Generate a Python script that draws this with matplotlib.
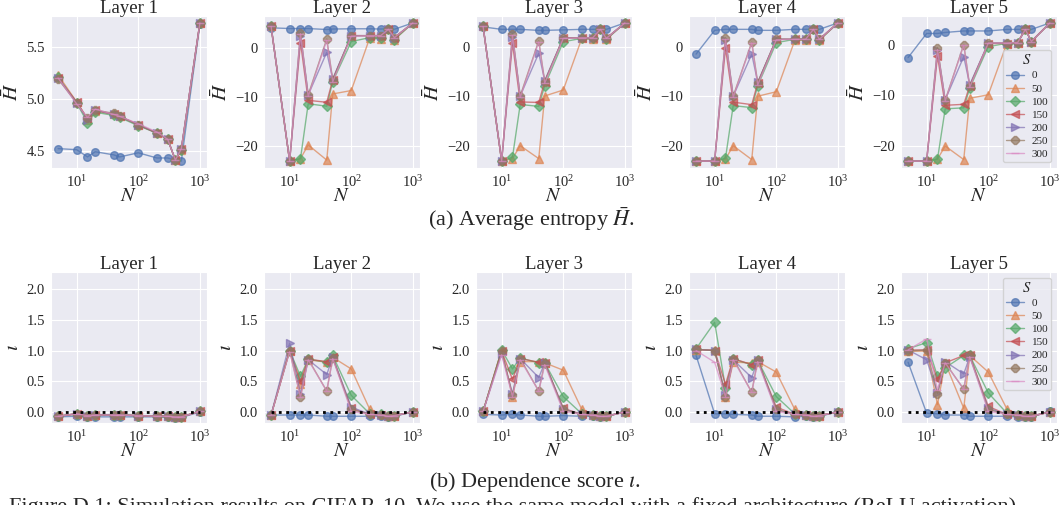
import numpy as np
import matplotlib
matplotlib.use('Agg')
import matplotlib.pyplot as plt
import seaborn as sns

sns.set_style('darkgrid')
plt.rcParams['font.family'] = ['Liberation Serif', 'DejaVu Serif']
plt.rcParams['mathtext.fontset'] = 'stix'

N = [5, 10, 15, 20, 40, 50, 100, 200, 300, 400, 500, 1000]
S = [0, 50, 100, 150, 200, 250, 300]
layers = ['Layer 1', 'Layer 2', 'Layer 3', 'Layer 4', 'Layer 5']

# average entropy H, one list per S value, per layer
H = [
    [  # layer 1
        [4.52, 4.51, 4.44, 4.49, 4.46, 4.44, 4.48, 4.43, 4.43, 4.41, 4.40, 5.72],
        [5.23, 4.97, 4.80, 4.88, 4.85, 4.83, 4.75, 4.67, 4.61, 4.41, 4.51, 5.73],
        [5.21, 4.96, 4.77, 4.87, 4.84, 4.82, 4.74, 4.67, 4.61, 4.41, 4.51, 5.73],
        [5.20, 4.97, 4.81, 4.89, 4.85, 4.83, 4.75, 4.67, 4.61, 4.41, 4.52, 5.73],
        [5.20, 4.96, 4.80, 4.89, 4.85, 4.83, 4.75, 4.67, 4.61, 4.41, 4.52, 5.73],
        [5.19, 4.96, 4.81, 4.89, 4.86, 4.83, 4.75, 4.67, 4.61, 4.41, 4.52, 5.73],
        [5.20, 4.95, 4.82, 4.90, 4.85, 4.83, 4.76, 4.68, 4.61, 4.41, 4.52, 5.73],
    ],
    [  # layer 2
        [4.2, 4.05, 4.05, 4.05, 3.85, 3.95, 4.0, 4.0, 3.95, 4.0, 3.9, 5.2],
        [4.5, -23.0, -22.5, -19.7, -22.8, -9.3, -8.6, 2.2, 2.0, 3.9, 1.8, 5.2],
        [4.5, -23.0, -22.5, -11.3, -11.8, -6.8, 1.4, 2.2, 2.2, 3.9, 1.8, 5.2],
        [4.5, -23.0, 1.2, -10.6, -11.0, -6.4, 2.6, 2.6, 2.6, 3.9, 2.2, 5.2],
        [4.5, -23.0, 2.6, -9.5, -0.8, -6.2, 2.6, 2.6, 2.6, 3.9, 2.2, 5.2],
        [4.5, -23.0, 3.2, -9.5, 1.9, -6.4, 2.6, 2.6, 2.6, 3.9, 2.2, 5.2],
        [4.5, -23.0, 3.0, -9.8, 1.7, -6.8, 2.5, 2.6, 2.6, 3.9, 2.2, 5.2],
    ],
    [  # layer 3
        [4.0, 3.5, 3.5, 3.5, 3.3, 3.3, 3.4, 3.5, 3.5, 3.5, 3.5, 4.8],
        [4.1, -23.0, -22.5, -19.9, -22.5, -9.9, -8.7, 1.7, 1.5, 3.5, 1.5, 4.8],
        [4.1, -23.0, -22.2, -11.6, -12.0, -7.8, 1.0, 1.7, 1.7, 3.5, 1.5, 4.8],
        [4.1, -23.0, 0.7, -11.1, -11.2, -7.0, 1.8, 1.8, 1.8, 3.5, 1.7, 4.8],
        [4.1, -23.0, 2.0, -9.9, -1.3, -6.8, 1.8, 1.8, 1.8, 3.5, 1.7, 4.8],
        [4.1, -23.0, 2.6, -9.9, 1.2, -7.0, 1.8, 1.8, 1.8, 3.5, 1.7, 4.8],
        [4.1, -23.0, 2.3, -10.2, 1.0, -7.3, 1.7, 1.8, 1.8, 3.5, 1.7, 4.8],
    ],
    [  # layer 4
        [-1.5, 3.3, 3.5, 3.5, 3.5, 3.3, 3.3, 3.5, 3.5, 3.5, 3.5, 4.8],
        [-23.1, -23.1, -22.7, -20.0, -22.8, -10.0, -9.1, 1.3, 1.3, 3.5, 1.3, 4.8],
        [-23.1, -23.1, -22.5, -11.9, -12.3, -7.9, 0.8, 1.5, 1.5, 3.5, 1.3, 4.8],
        [-23.1, -23.1, -0.3, -11.2, -11.7, -7.3, 1.5, 1.5, 1.5, 3.5, 1.5, 4.8],
        [-23.1, -23.1, 1.3, -10.0, -1.5, -7.2, 1.5, 1.5, 1.5, 3.5, 1.5, 4.8],
        [-23.1, -23.1, 1.8, -10.0, 0.9, -7.3, 1.5, 1.5, 1.5, 3.5, 1.5, 4.8],
        [-23.1, -23.1, 1.5, -10.2, 0.8, -7.7, 1.4, 1.5, 1.5, 3.5, 1.5, 4.8],
    ],
    [  # layer 5
        [-2.5, 2.3, 2.3, 2.5, 2.8, 2.8, 2.8, 3.1, 3.1, 3.1, 3.1, 4.4],
        [-23.1, -23.1, -22.7, -20.1, -22.8, -10.6, -9.9, 0.3, 0.5, 3.1, 0.7, 4.4],
        [-23.1, -23.1, -22.7, -12.7, -12.5, -8.6, -0.3, 0.3, 0.5, 3.1, 0.7, 4.4],
        [-23.1, -23.1, -2.2, -12.0, -11.8, -8.1, 0.3, 0.3, 0.5, 3.1, 0.7, 4.4],
        [-23.1, -23.1, -1.0, -10.9, -2.3, -7.9, 0.4, 0.4, 0.5, 3.1, 0.7, 4.4],
        [-23.1, -23.1, -0.5, -11.0, 0.1, -8.2, 0.4, 0.4, 0.5, 3.1, 0.7, 4.4],
        [-23.1, -23.1, -0.9, -11.1, 0.0, -8.4, 0.4, 0.4, 0.5, 3.1, 0.7, 4.4],
    ],
]

# dependence score iota
iota = [
    [  # layer 1
        [-0.08, -0.07, -0.08, -0.08, -0.08, -0.08, -0.08, -0.08, -0.09, -0.10, -0.09, 0.0],
        [-0.07, -0.03, -0.06, -0.05, -0.05, -0.05, -0.06, -0.07, -0.07, -0.08, -0.08, 0.01],
        [-0.07, -0.03, -0.06, -0.05, -0.05, -0.05, -0.06, -0.07, -0.07, -0.08, -0.08, 0.01],
        [-0.07, -0.03, -0.06, -0.05, -0.05, -0.05, -0.06, -0.07, -0.07, -0.08, -0.08, 0.01],
        [-0.07, -0.03, -0.06, -0.05, -0.05, -0.05, -0.06, -0.07, -0.07, -0.08, -0.08, 0.01],
        [-0.07, -0.03, -0.06, -0.05, -0.05, -0.05, -0.06, -0.07, -0.07, -0.08, -0.08, 0.01],
        [-0.07, -0.03, -0.06, -0.05, -0.05, -0.05, -0.06, -0.07, -0.07, -0.08, -0.08, 0.01],
    ],
    [  # layer 2
        [-0.05, -0.05, -0.05, -0.05, -0.07, -0.07, -0.07, -0.07, -0.07, -0.08, -0.07, 0.0],
        [-0.05, 1.00, 0.45, 0.85, 0.81, 0.89, 0.70, 0.04, -0.04, -0.07, -0.06, 0.0],
        [-0.05, 1.00, 0.58, 0.86, 0.81, 0.92, 0.27, -0.03, -0.04, -0.07, -0.06, 0.0],
        [-0.05, 1.00, 0.50, 0.86, 0.82, 0.89, 0.06, -0.04, -0.05, -0.07, -0.06, 0.0],
        [-0.05, 1.12, 0.30, 0.85, 0.61, 0.89, 0.08, -0.04, -0.05, -0.07, -0.06, 0.0],
        [-0.05, 1.00, 0.25, 0.86, 0.34, 0.88, 0.04, -0.04, -0.05, -0.07, -0.06, 0.0],
        [-0.05, 0.98, 0.24, 0.85, 0.34, 0.87, 0.01, -0.04, -0.05, -0.07, -0.06, 0.0],
    ],
    [  # layer 3
        [-0.04, -0.05, -0.04, -0.05, -0.07, -0.07, -0.06, -0.07, -0.07, -0.08, -0.07, 0.0],
        [0.01, 1.01, 0.25, 0.82, 0.82, 0.80, 0.68, 0.04, -0.05, -0.07, -0.07, 0.0],
        [0.01, 1.01, 0.70, 0.88, 0.80, 0.80, 0.25, -0.03, -0.05, -0.07, -0.07, 0.0],
        [0.01, 0.99, 0.53, 0.87, 0.81, 0.80, 0.06, -0.04, -0.05, -0.07, -0.07, 0.0],
        [0.01, 0.95, 0.30, 0.87, 0.56, 0.80, 0.05, -0.04, -0.05, -0.07, -0.07, 0.0],
        [0.01, 1.00, 0.27, 0.87, 0.34, 0.80, 0.04, -0.04, -0.05, -0.07, -0.07, 0.0],
        [0.01, 0.93, 0.25, 0.85, 0.34, 0.77, 0.01, -0.04, -0.05, -0.07, -0.07, 0.0],
    ],
    [  # layer 4
        [0.92, -0.03, -0.03, -0.04, -0.05, -0.07, -0.07, -0.08, -0.07, -0.08, -0.07, 0.0],
        [1.01, 1.01, 0.25, 0.81, 0.80, 0.82, 0.65, 0.04, -0.05, -0.07, -0.06, 0.0],
        [1.03, 1.46, 0.39, 0.86, 0.77, 0.84, 0.25, -0.03, -0.05, -0.07, -0.06, 0.0],
        [1.02, 1.00, 0.45, 0.87, 0.77, 0.84, 0.08, -0.04, -0.05, -0.07, -0.06, 0.0],
        [1.02, 1.00, 0.28, 0.85, 0.56, 0.84, 0.04, -0.04, -0.05, -0.07, -0.06, 0.0],
        [1.02, 1.00, 0.25, 0.87, 0.32, 0.85, 0.04, -0.04, -0.05, -0.07, -0.06, 0.0],
        [1.00, 0.81, 0.25, 0.85, 0.32, 0.82, 0.01, -0.04, -0.05, -0.07, -0.06, 0.0],
    ],
    [  # layer 5
        [0.81, -0.02, -0.03, -0.05, -0.05, -0.07, -0.07, -0.07, -0.08, -0.08, -0.08, 0.01],
        [0.99, 0.99, 0.12, 0.80, 0.06, 0.92, 0.65, 0.05, -0.05, -0.07, -0.07, 0.0],
        [1.03, 1.13, 0.58, 0.72, 0.92, 0.92, 0.31, -0.02, -0.05, -0.07, -0.07, 0.0],
        [1.01, 1.01, 0.53, 0.80, 0.92, 0.92, 0.09, -0.04, -0.05, -0.07, -0.07, 0.0],
        [1.01, 0.85, 0.31, 0.82, 0.62, 0.90, 0.06, -0.04, -0.05, -0.07, -0.07, 0.0],
        [0.99, 1.01, 0.30, 0.80, 0.37, 0.92, 0.04, -0.04, -0.05, -0.07, -0.07, 0.0],
        [1.01, 1.19, 0.36, 0.80, 0.37, 0.90, 0.01, -0.04, -0.05, -0.07, -0.07, 0.0],
    ],
]

iota_ticks = [0.0, 0.5, 1.0, 1.5, 2.0]

colors = sns.color_palette('deep', 7)
markers = ['o', '^', 'D', '<', '>', '8', '_']

W, Hpx = 1063, 505
fig = plt.figure(figsize=(W / 100, Hpx / 100), dpi=100)
lefts = [51, 264, 476, 689, 901]
aw = 156


def make_ax(left, top, bottom):
    return fig.add_axes([left / W, 1 - bottom / Hpx, aw / W, (bottom - top) / Hpx])


for row, (data, ylab) in enumerate([(H, r'$\bar{H}$'), (iota, r'$\iota$')]):
    for j in range(5):
        if row == 0:
            ax = make_ax(lefts[j], 16, 168)
        else:
            ax = make_ax(lefts[j], 272, 423)
        for k, s in enumerate(S):
            ax.plot(N, data[j][k], marker=markers[k], color=colors[k], alpha=0.7,
                    lw=1, ms=5.5, label=str(s))
        if row == 1:
            ax.plot([N[0], N[-1]], [0, 0], 'k:', lw=2)
            ax.set_ylim(-0.18, 2.28)
            ax.set_yticks(iota_ticks)
            ax.set_yticklabels(['%.1f' % t for t in iota_ticks])
        ax.set_xscale('log')
        ax.set_title(layers[j], fontsize=13.5, pad=2)
        ax.set_xlabel(r'$N$', fontsize=14.5, labelpad=-2)
        ax.set_ylabel(ylab, fontsize=15, labelpad=2)
        ax.tick_params(labelsize=10.5, pad=1)
        if j == 4:
            leg = ax.legend(title=r'$S$', fontsize=8, title_fontsize=10.5,
                            loc='lower right' if row == 0 else 'upper right',
                            handlelength=1.6, handletextpad=0.7,
                            labelspacing=0.3, borderpad=0.3)

fig.text(0.5, 1 - 219 / Hpx, r'(a) Average entropy $\bar{H}$.', ha='center', va='center', fontsize=16)
fig.text(0.503, 1 - 482 / Hpx, r'(b) Dependence score $\iota$.', ha='center', va='center', fontsize=16)
fig.text(0.008, 1 - 497 / Hpx, 'Figure D.1: Simulation results on CIFAR-10. We use the same model with a fixed architecture (ReLU activation)',
         ha='left', va='top', fontsize=16)

fig.savefig('out.png', dpi=100)
